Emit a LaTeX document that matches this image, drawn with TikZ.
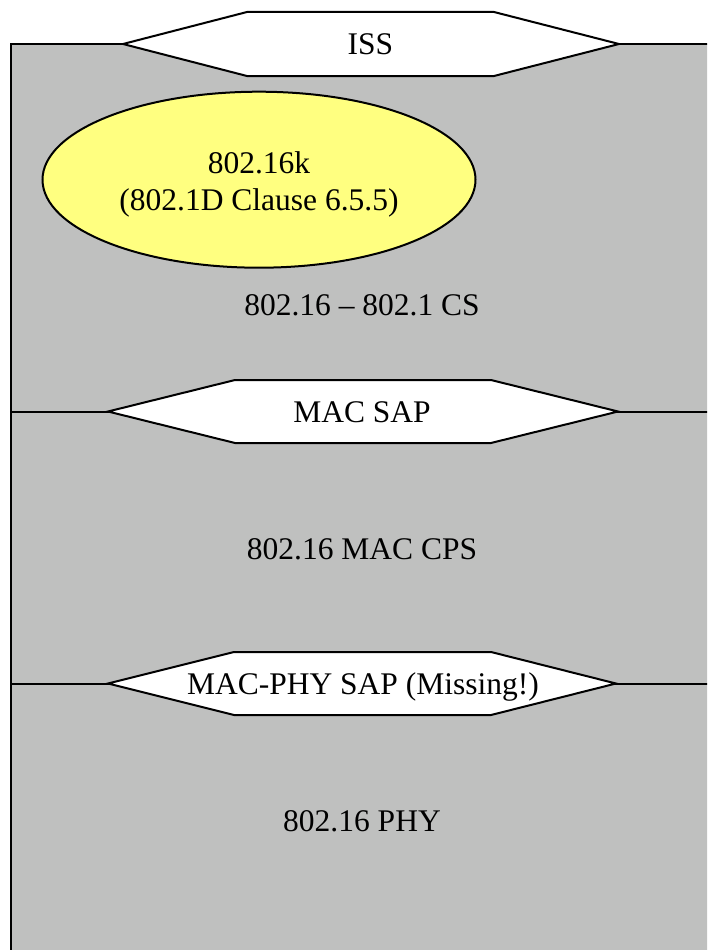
\documentclass[tikz,border=0pt]{standalone}
\usepackage{fontspec}
\setmainfont{Liberation Serif}
\definecolor{layergray}{RGB}{191,192,191}
\definecolor{kyellow}{RGB}{255,255,128}
\begin{document}
\begin{tikzpicture}[x=1pt,y=-1pt,line width=2pt,line join=miter,
  lbl/.style={font=\fontsize{31.5}{37}\selectfont,align=center,inner sep=0pt,anchor=base},
  sap/.style={draw=black,fill=white}]
\useasboundingbox (0,0) rectangle (707,950);
\begin{scope}
\clip (0,0) rectangle (707,950);
\fill[layergray] (11,44) rectangle (760,1000);
\draw (11,1000) -- (11,44) -- (760,44);
\draw (11,411.5) -- (760,411.5);
\draw (11,683.5) -- (760,683.5);
\end{scope}
% SAP hexagons
\draw[sap] (123,44) -- (247,12) -- (494,12) -- (619,44) -- (494,76) -- (247,76) -- cycle;
\draw[sap] (108,411.5) -- (235,380) -- (491,380) -- (618,411.5) -- (491,443) -- (235,443) -- cycle;
\draw[sap] (108,683.5) -- (234,652) -- (491,652) -- (616,683.5) -- (491,715) -- (234,715) -- cycle;
% ellipse
\draw[fill=kyellow] (259,179.7) ellipse [x radius=216.5pt, y radius=88pt];
% labels
\node[lbl] (iss) at (370.5,54.5) {ISS};
\node[lbl] (macsap) at (362,422) {MAC SAP};
\node[lbl] (physap) at (363,694) {MAC-PHY SAP (Missing!)};
\node[lbl] (k1) at (259,173) {802.16k};
\node[lbl] (k2) at (259,210) {(802.1D Clause 6.5.5)};
\node[lbl] (cs) at (362,315.5) {802.16 – 802.1 CS};
\node[lbl] (cps) at (362,559) {802.16 MAC CPS};
\node[lbl] (phy) at (362,831) {802.16 PHY};
\end{tikzpicture}
\end{document}
